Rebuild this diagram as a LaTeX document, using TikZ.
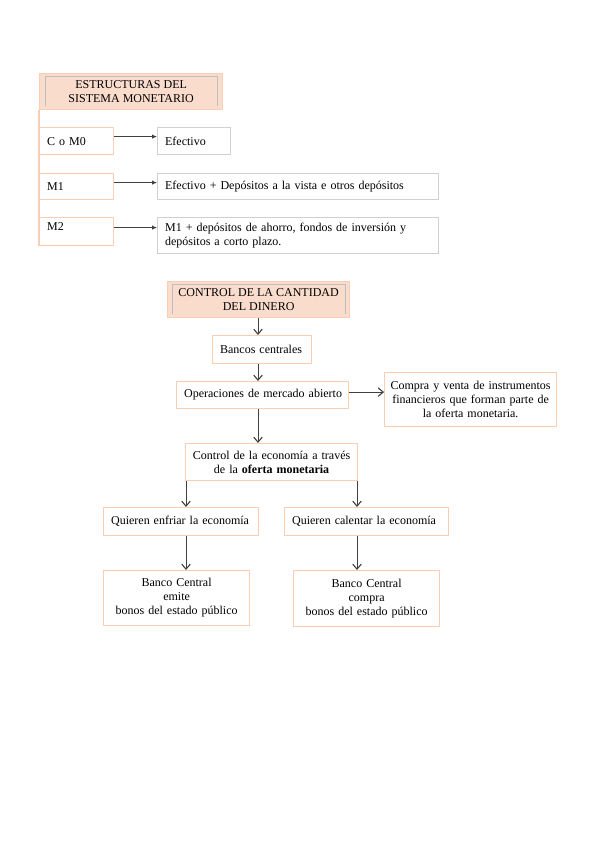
\documentclass[tikz,border=0pt]{standalone}
\usepackage{fontspec}
\setmainfont{Liberation Serif}
\usetikzlibrary{arrows.meta}
\definecolor{peach}{RGB}{248,206,180}
\definecolor{peachfill}{RGB}{250,220,204}
\definecolor{grayb}{RGB}{208,208,208}
\definecolor{innergray}{RGB}{190,190,190}
\definecolor{arrowc}{RGB}{64,64,64}
\begin{document}
\begin{tikzpicture}[x=1pt,y=1pt,
  every node/.style={font=\fontsize{12}{14}\selectfont},
  pbox/.style={draw=peach, line width=1.2pt, inner sep=0pt, inner xsep=7.5pt, anchor=north west},
  gbox/.style={draw=grayb, line width=1.2pt, inner sep=0pt, inner xsep=7.5pt, anchor=north west},
  titlebox/.style={draw=peach, fill=peachfill, line width=1.2pt, inner sep=0pt, anchor=north west, align=center},
  innerline/.style={draw=innergray, line width=0.6pt},
  peachline/.style={draw=peach, line width=1.2pt},
  arrA/.style={draw=arrowc, line width=0.9pt, -{Latex[length=5pt,width=4.5pt]}},
  arrB/.style={draw=arrowc, line width=1pt, -{Straight Barb[length=5pt,width=8.5pt,line width=1.1pt]}}
]
\useasboundingbox (0,0) rectangle (599,-848);

% ---------- Section 1 ----------
\node[titlebox, minimum width=183pt, minimum height=36pt] (t1) at (39,-73)
  {ESTRUCTURAS DEL\\SISTEMA MONETARIO};
\draw[innerline] ([xshift=6pt,yshift=4pt]t1.south west) |- ([xshift=-6pt,yshift=-3pt]t1.north east)
  -- ([xshift=-6pt,yshift=4pt]t1.south east);

\node[pbox, minimum width=74pt, minimum height=27pt, text width=59pt, align=left] (m0) at (39,-127) {\mbox{C o M0}};
\node[gbox, minimum width=73pt, minimum height=27pt, text width=58pt, align=left] (ef) at (157,-127) {\mbox{Efectivo}};

\node[pbox, minimum width=74pt, minimum height=26pt, text width=59pt, align=left] (m1) at (39,-173) {\mbox{M1}};
\node[gbox, minimum width=281pt, minimum height=26pt, text width=266pt, align=left] (ef1) at (157,-173)
  {\mbox{Efectivo + Depósitos a la vista e otros depósitos}};

\node[pbox, minimum width=74pt, minimum height=28pt, anchor=north west] (m2) at (39,-217) {};
\node[anchor=west, inner sep=0pt] (m2t) at (47,-227) {M2};
\node[gbox, minimum width=281pt, minimum height=36pt, text width=266pt, align=left] (m2d) at (157,-217)
  {M1 + depósitos de ahorro, fondos de inversión y\\depósitos a corto plazo.};

\draw[peachline] (t1.south west) -- (m2.south west);

\draw[arrA] ([yshift=4.5pt]m0.east) -- ([yshift=4.5pt]m0.east -| ef.west);
\draw[arrA] ([yshift=4pt]m1.east) -- ([yshift=4pt]m1.east -| ef1.west);
\draw[arrA] ([yshift=4pt]m2.east) -- ([yshift=4pt]m2.east -| m2d.west);

% ---------- Section 2 ----------
\node[titlebox, minimum width=182pt, minimum height=36pt] (t2) at (167,-281)
  {CONTROL DE LA CANTIDAD\\DEL DINERO};
\draw[innerline] ([xshift=5pt,yshift=4pt]t2.south west) |- ([xshift=-5pt,yshift=-3pt]t2.north east)
  -- ([xshift=-5pt,yshift=4pt]t2.south east);

\node[pbox, minimum width=99pt, minimum height=28pt, text width=84pt, align=left] (bc) at (212,-335) {\mbox{Bancos centrales}};
\node[pbox, minimum width=172pt, minimum height=27pt, text width=157pt, align=left] (op) at (176,-381)
  {\mbox{Operaciones de mercado abierto}};
\node[pbox, minimum width=172pt, minimum height=54pt, text width=160pt, align=center, inner xsep=6pt] (cv) at (384,-372)
  {Compra y venta de instrumentos\\financieros que forman parte de\\la oferta monetaria.};
\node[pbox, minimum width=172pt, minimum height=37pt, text width=160pt, align=center, inner xsep=6pt] (ce) at (185,-443)
  {Control de la economía a través\\de la \textbf{oferta monetaria}};
\node[pbox, minimum width=155pt, minimum height=28pt, text width=140pt, align=left] (qe) at (103,-507)
  {\mbox{Quieren enfriar la economía}};
\node[pbox, minimum width=164pt, minimum height=28pt, text width=149pt, align=left] (qc) at (284,-507)
  {\mbox{Quieren calentar la economía}};
\node[pbox, minimum width=146pt, minimum height=55pt, text width=134pt, align=center, inner xsep=6pt] (be) at (103,-570)
  {Banco Central\\emite\\bonos del estado público};
\node[pbox, minimum width=146pt, minimum height=56pt, text width=134pt, align=center, inner xsep=6pt] (bcm) at (293,-570)
  {Banco Central\\compra\\bonos del estado público};

\coordinate (xa) at (258,0);
\draw[arrB] (t2.south -| xa) -- (bc.north -| xa);
\draw[arrB] (bc.south -| xa) -- (op.north -| xa);
\draw[arrB] ([yshift=3pt]op.east) -- ([yshift=3pt]op.east -| cv.west);
\draw[arrB] (op.south -| xa) -- (ce.north -| xa);
\coordinate (xl) at (186,0);
\coordinate (xr) at (357,0);
\draw[arrB] (ce.south -| xl) -- (qe.north -| xl);
\draw[arrB] (ce.south -| xr) -- (qc.north -| xr);
\draw[arrB] (qe.south -| xl) -- (be.north -| xl);
\draw[arrB] (qc.south -| xr) -- (bcm.north -| xr);
\end{tikzpicture}
\end{document}
